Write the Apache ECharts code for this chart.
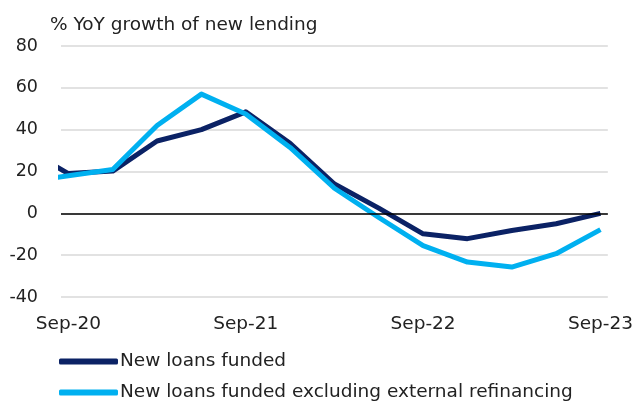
<!DOCTYPE html>
<html>
<head>
<meta charset="utf-8">
<script src="https://cdn.jsdelivr.net/npm/echarts@6/dist/echarts.min.js"></script>
<style>html,body{margin:0;padding:0;background:#fff}#c{width:636px;height:401px}</style>
</head>
<body>
<div id="c"></div>
<script>
// months since Sep-20 (quarterly observations; first one lies before the visible window)
const months = [-1, 0, 3, 6, 9, 12, 15, 18, 21, 24, 27, 30, 33, 36];
const newLoans = [23, 19, 20.2, 34.6, 40, 48.5, 33.5, 14, 2.5, -9.8, -12.1, -8.2, -5, 0];
const newLoansExRefi = [17, 18, 21, 42, 57, 47.5, 31.5, 12, -2, -15.4, -23.3, -25.7, -19.3, -7.8];
const tickMonths = [0, 12, 24, 36];
const tickLabels = ['Sep-20', 'Sep-21', 'Sep-22', 'Sep-23'];
const seriesNames = ['New loans funded', 'New loans funded excluding external refinancing'];
const yTitle = '% YoY growth of new lending';

const font = 'DejaVu Sans';
const txt = {fontFamily: font, fontSize: 18.5, color: '#222'};
const legendBase = {
  orient: 'horizontal', left: 54, itemWidth: 59, itemHeight: 6, icon: 'roundRect',
  textStyle: Object.assign({padding: [0, 0, 0, -3]}, txt)
};
const chart = echarts.init(document.getElementById('c'));
chart.setOption({
  animation: false,
  color: ['#0b2265', '#00b0f0'],
  title: {
    text: yTitle, left: 45, top: 11,
    textStyle: Object.assign({fontWeight: 'normal'}, txt)
  },
  legend: [
    Object.assign({top: 347, data: [seriesNames[0]]}, legendBase),
    Object.assign({top: 378, data: [seriesNames[1]]}, legendBase)
  ],
  grid: {left: 61, right: 28, top: 46, bottom: 104, containLabel: false},
  xAxis: {
    type: 'value', min: -0.5, max: 36.5,
    axisLine: {show: false}, axisTick: {show: false}, splitLine: {show: false},
    axisLabel: Object.assign({
      customValues: tickMonths, margin: 18,
      formatter: v => tickLabels[tickMonths.indexOf(v)]
    }, txt)
  },
  yAxis: {
    type: 'value', min: -40, max: 80, interval: 20,
    axisLine: {show: false}, axisTick: {show: false},
    axisLabel: Object.assign({}, txt, {margin: 23, fontSize: 17.5}),
    splitLine: {lineStyle: {color: '#d9d9d9', width: 1.5}}
  },
  series: [
    {
      name: seriesNames[0], type: 'line', showSymbol: false, clip: true,
      data: months.map((m, i) => [m, newLoans[i]]),
      lineStyle: {width: 5, join: 'round'},
      markLine: {
        silent: true, symbol: 'none', label: {show: false},
        lineStyle: {color: '#000', width: 1.5, type: 'solid'},
        data: [{yAxis: 0}]
      }
    },
    {
      name: seriesNames[1], type: 'line', showSymbol: false, clip: true,
      data: months.map((m, i) => [m, newLoansExRefi[i]]),
      lineStyle: {width: 5, join: 'round'}
    }
  ]
});
</script>
</body>
</html>
